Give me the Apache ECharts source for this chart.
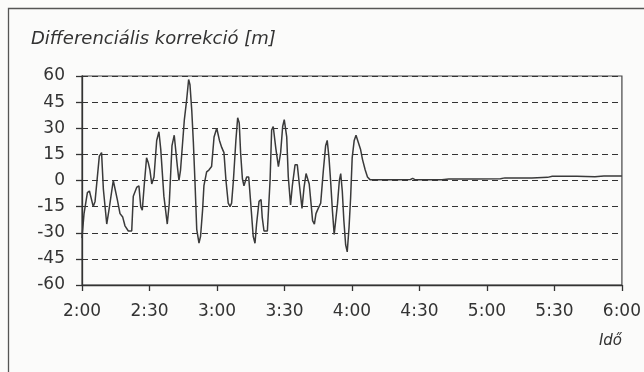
<!DOCTYPE html>
<html>
<head>
<meta charset="utf-8">
<script src="https://cdn.jsdelivr.net/npm/echarts@6/dist/echarts.min.js"></script>
<style>
  html, body { margin: 0; padding: 0; background: #fbfbfa; }
  #chart { width: 644px; height: 372px; }
</style>
</head>
<body>
<div id="chart"></div>
<script>
// Differential correction over time; x = minutes after 2:00
var minutes = [
  0, 0.9, 2.4, 3.3, 5.0, 5.8, 7.7, 8.7, 9.5, 11.0, 12.1, 13.9, 14.5, 15.7, 16.9, 18.1,
  19.1, 20.6, 22.1, 22.8, 24.3, 25.3, 26.1, 26.8, 27.7, 28.7, 29.5, 30.2, 31.0, 32.0,
  33.2, 34.2, 35.0, 36.4, 37.9, 38.8, 40.0, 41.0, 42.4, 43.1, 43.8, 45.5, 46.5, 47.4,
  48.0, 48.8, 49.5, 50.2, 51.0, 52.0, 52.7, 53.6, 54.2, 55.4, 56.4, 57.6, 58.7, 59.9,
  61.1, 62.1, 63.1, 64.0, 65.0, 65.8, 66.5, 67.3, 68.4, 69.2, 69.9, 70.5, 71.3, 72.0,
  73.2, 74.1, 75.0, 76.1, 76.9, 77.6, 78.7, 79.6, 80.1, 80.9, 82.4, 83.6, 84.3, 85.0,
  86.2, 87.3, 88.3, 89.2, 89.9, 91.0, 91.7, 92.7, 93.5, 94.7, 95.7, 96.6, 97.8, 98.7,
  99.6, 100.3, 101.0, 101.8, 102.5, 103.3, 104.0, 105.0, 106.1, 107.3, 108.3, 109.0,
  109.8, 110.5, 111.3, 112.1, 112.9, 113.6, 114.4, 115.0, 115.7, 116.4, 117.2, 117.9,
  118.7, 119.4, 120.1, 121.0, 121.8, 122.8, 123.8, 124.7, 125.9, 126.9, 128.0,
  135, 140, 146, 147, 148, 160, 163, 175, 186, 188, 200, 207, 209, 220, 228, 232, 240
];
var correction = [
  -33, -19, -7, -6, -15, -12, 14, 16, -5, -25, -16, 0, 1, -11, -19, -21,
  -26, -29, -29, -9, -4, -3, -15, -17, -2, 13, 10, 6, -2, 2,
  23, 28, 18, -9, -25, -13, 20, 26, 8, 0, 6, 35, 46, 58,
  55, 40, 22, 0, -28, -36, -32, -17, -3, 5, 6, 8, 25, 30,
  23, 19, 16, 0, -13, -15, -13, 0, 23, 36, 33, 16, 1, -3,
  2, 2, -13, -32, -36, -25, -12, -11, -21, -29, -29, 0, 29, 31,
  18, 8, 16, 31, 35, 25, 2, -14, -3, 9, 9, -2, -16, -4,
  4, 3, -2, -13, -23, -25, -19, -16, -13, 6, 20, 23,
  13, 0, -17, -31, -30, -13, 0, 4, -6, -23, -37, -41,
  -27, -10, 13, 23, 26, 22, 18, 12, 6, 2, 0.5,
  0.5, 0.5, 0.6, 1.2, 0.5, 0.5, 0.8, 0.8, 1, 1.5, 1.5, 1.8, 2.4, 2.4, 2.2, 2.6, 2.6
];
var timeLabels = ['2:00', '2:30', '3:00', '3:30', '4:00', '4:30', '5:00', '5:30', '6:00'];
var titleText = 'Differenciális korrekció [m]';
var xName = 'Idő';

var ink = '#333333';
var font = 'DejaVu Sans';

var chart = echarts.init(document.getElementById('chart'), null, { renderer: 'canvas' });
chart.setOption({
  backgroundColor: '#fbfbfa',
  animation: false,
  title: {
    text: titleText,
    left: 31,
    top: 30,
    padding: 0,
    textStyle: { fontFamily: font, fontSize: 18, fontStyle: 'italic', fontWeight: 'normal', color: ink }
  },
  grid: {
    left: 82, right: 22, top: 76, bottom: 87,
    show: true, borderColor: '#444', borderWidth: 1.2, backgroundColor: 'transparent'
  },
  xAxis: {
    type: 'value',
    min: 0, max: 240, interval: 30,
    axisLine: { onZero: false, lineStyle: { color: ink, width: 1.3 } },
    axisTick: { show: true, inside: false, length: 6, lineStyle: { color: ink, width: 1.3 } },
    axisLabel: {
      margin: 18, fontFamily: font, fontSize: 17, color: ink,
      formatter: function (v) { return timeLabels[Math.round(v / 30)]; }
    },
    splitLine: { show: false }
  },
  yAxis: {
    type: 'value',
    min: -60, max: 60, interval: 15,
    axisLine: { show: true, onZero: false, lineStyle: { color: ink, width: 1.3 } },
    axisTick: { show: true, inside: false, length: 6, lineStyle: { color: ink, width: 1.3 } },
    axisLabel: { margin: 17, fontFamily: font, fontSize: 17, color: ink },
    splitLine: { show: true, lineStyle: { color: ink, width: 1, type: [6, 4] } }
  },
  graphic: [
    {
      type: 'rect', silent: true, z: -1,
      shape: { x: 8.5, y: 8.5, width: 700, height: 400 },
      style: { fill: 'none', stroke: '#555', lineWidth: 1.3 }
    },
    {
      type: 'text', silent: true,
      style: {
        x: 622, y: 341, text: xName, align: 'right', verticalAlign: 'middle',
        font: 'italic 15px "DejaVu Sans"', fill: ink
      }
    }
  ],
  series: [{
    type: 'line',
    showSymbol: false,
    data: minutes.map(function (m, i) { return [m, correction[i]]; }),
    lineStyle: { color: '#3a3a3a', width: 1.5 }
  }]
});
</script>
</body>
</html>
